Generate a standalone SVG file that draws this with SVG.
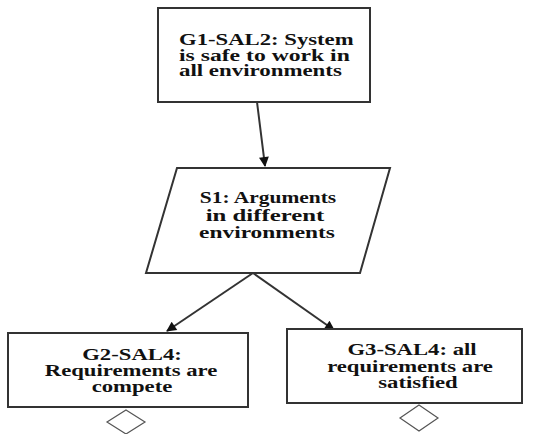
<svg xmlns="http://www.w3.org/2000/svg" width="536" height="434" viewBox="0 0 536 434">
  <style>
    .box { fill: #ffffff; stroke: #333333; stroke-width: 2; }
    .edge { stroke: #333333; stroke-width: 2; fill: none; }
    .opt { fill: #ffffff; stroke: #555555; stroke-width: 1.2; }
    .lbl { font-family: "Liberation Serif", serif; font-weight: bold; font-size: 16px; fill: #111111; }
    .mid { text-anchor: middle; }
  </style>
  <defs>
    <marker id="arrow" viewBox="0 0 10 10" refX="9" refY="5" markerWidth="12" markerHeight="10" markerUnits="userSpaceOnUse" orient="auto">
      <path d="M0,0 L10,5 L0,10 z" fill="#111111"/>
    </marker>
  </defs>
  <rect width="536" height="434" fill="#ffffff"/>

  <g id="connectors">
    <line class="edge" x1="257" y1="102" x2="265" y2="166" marker-end="url(#arrow)"/>
    <line class="edge" x1="253" y1="273" x2="167" y2="331" marker-end="url(#arrow)"/>
    <line class="edge" x1="253" y1="273" x2="334" y2="330" marker-end="url(#arrow)"/>
  </g>

  <!-- labels use a wide bold serif: stretched horizontally -->
  <g id="G1">
    <rect class="box" x="158" y="8" width="212" height="94"/>
    <text class="lbl" transform="translate(179,45) scale(1.42,1)">G1-SAL2: System</text>
    <text class="lbl" transform="translate(179,61) scale(1.48,1)">is safe to work in</text>
    <text class="lbl" transform="translate(179,76) scale(1.43,1)">all environments</text>
  </g>

  <g id="S1">
    <polygon class="box" points="177,168 390,168 360,273 146,273"/>
    <text class="lbl mid" transform="translate(268,203) scale(1.34,1)">S1: Arguments</text>
    <text class="lbl mid" transform="translate(265,221) scale(1.55,1)">in different</text>
    <text class="lbl mid" transform="translate(267,238) scale(1.46,1)">environments</text>
  </g>

  <g id="G2">
    <rect class="box" x="8" y="333" width="240" height="74"/>
    <text class="lbl mid" transform="translate(132,360) scale(1.42,1)">G2-SAL4:</text>
    <text class="lbl mid" transform="translate(131,376) scale(1.42,1)">Requirements are</text>
    <text class="lbl mid" transform="translate(132,392) scale(1.42,1)">compete</text>
    <polygon class="opt" points="126,410 145,422 126,434 107,422"/>
  </g>

  <g id="G3">
    <rect class="box" x="287" y="329" width="235" height="74"/>
    <text class="lbl mid" transform="translate(412,355) scale(1.42,1)">G3-SAL4: all</text>
    <text class="lbl mid" transform="translate(410,372) scale(1.42,1)">requirements are</text>
    <text class="lbl mid" transform="translate(418,388) scale(1.42,1)">satisfied</text>
    <polygon class="opt" points="419,405 438,418 419,431 400,418"/>
  </g>
</svg>
